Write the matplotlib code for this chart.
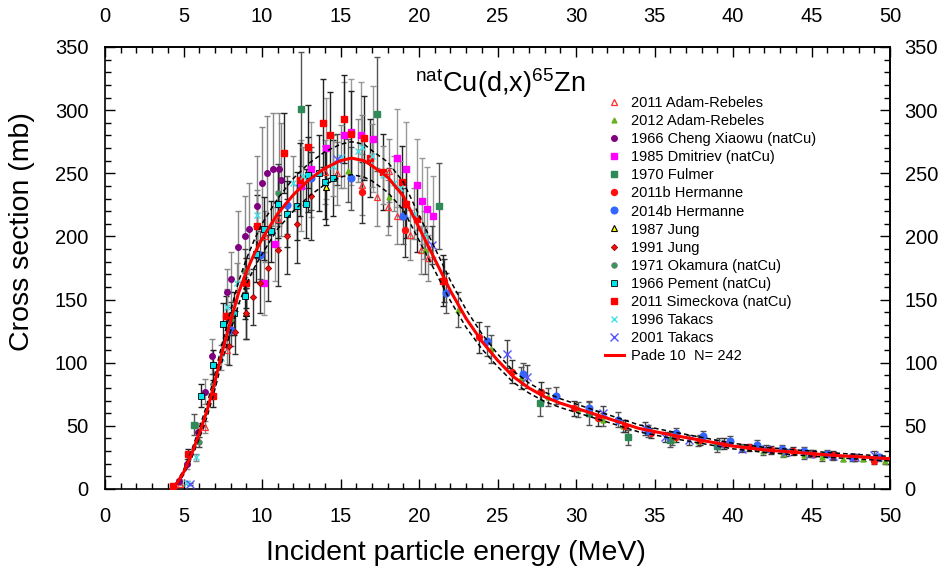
import matplotlib
matplotlib.use("Agg")
import matplotlib.pyplot as plt
from matplotlib.lines import Line2D
from matplotlib.ticker import MultipleLocator

plt.rcParams['font.family'] = ['Liberation Sans', 'DejaVu Sans']
plt.rcParams['mathtext.fontset'] = 'custom'
plt.rcParams['mathtext.rm'] = 'Liberation Sans'
plt.rcParams['mathtext.it'] = 'Liberation Sans:italic'

# ---------------- data ----------------
adam2011_E = [4.8, 6.4, 7.8, 10.2, 11.0, 14.0, 14.8, 16.4, 17.3, 18.0, 18.1, 18.6, 19.4, 20.1, 20.6]
adam2011_s = [4, 49, 110, 200, 214, 251, 250, 241, 231, 223, 252, 216, 201, 189, 183]
adam2011_e = [1, 5, 11, 20, 22, 25, 25, 24, 23, 22, 25, 22, 20, 19, 18]

adam2012_E = [15.5, 18.1, 20.4, 22.5, 24.6, 26.5, 28.2, 30.1, 31.7, 33.0, 36.1, 37.8, 40.6, 41.9, 43.2, 44.5, 45.7, 47.0, 48.3, 49.7]
adam2012_s = [252, 231, 189, 142, 111, 88, 73, 63, 55, 50, 39, 38, 33, 30, 28, 27, 25, 24, 24, 22]
adam2012_e = [25, 23, 19, 14, 11, 9, 7, 6, 5, 5, 4, 4, 3, 3, 3, 3, 3, 2, 2, 2]

cheng_E = [4.7, 5.2, 5.9, 6.4, 6.8, 7.8, 8.0, 8.5, 8.9, 9.2, 9.7, 10.0, 10.3, 10.7, 11.1, 11.2]
cheng_s = [6, 20, 45, 77, 105, 156, 166, 192, 200, 206, 224, 242, 250, 253, 253, 245]
cheng_e = [2, 4, 7, 10, 14, 18, 22, 28, 32, 36, 40, 45, 45, 45, 45, 45]

dmit_E = [10.1, 10.8, 12.5, 13.1, 14.1, 15.2, 15.7, 16.3, 17.1, 18.6, 19.2, 19.9, 20.2, 20.5, 20.9]
dmit_s = [163, 194, 240, 253, 270, 280, 283, 280, 277, 262, 253, 241, 228, 222, 216]
dmit_e = [25, 29, 36, 38, 40, 42, 42, 42, 42, 39, 38, 36, 34, 33, 32]

fulmer_E = [5.7, 12.5, 17.3, 21.3, 27.7, 30.8, 33.3, 36.0, 39.0]
fulmer_s = [51, 301, 297, 224, 68, 60, 41, 39, 34]
fulmer_e = [8, 45, 45, 34, 10, 9, 6, 6, 5]

herm11_E = [16.4, 19.1, 21.6, 23.8, 25.9, 27.8, 29.9, 31.4, 33.1, 34.8, 36.4, 37.9, 39.4, 41.0, 42.4, 43.8, 45.1, 46.4, 47.7, 49.0]
herm11_s = [235, 205, 165, 120, 93, 77, 64, 56, 50, 44, 41, 39, 36, 33, 31, 30, 28, 27, 25, 22]
herm11_e = [24, 21, 17, 12, 9, 8, 6, 6, 5, 4, 4, 4, 4, 3, 3, 3, 3, 3, 3, 2]

herm14_E = [8.0, 9.9, 11.6, 13.1, 15.7, 19.0, 21.7, 24.3, 26.6, 28.7, 30.8, 32.7, 34.6, 36.4, 38.1, 39.8, 41.5, 43.1, 44.5, 46.0, 47.6, 49.3]
herm14_s = [126, 185, 225, 246, 246, 216, 155, 117, 91, 74, 64, 55, 46, 44, 42, 38, 35, 32, 30, 28, 25, 25]
herm14_e = [13, 19, 23, 25, 25, 22, 16, 12, 9, 7, 6, 6, 5, 4, 4, 4, 4, 3, 3, 3, 3, 3]

jung87_E = [9.0, 14.1]
jung87_s = [139, 239]
jung87_e = [20, 30]

jung91_E = [7.9, 8.3, 9.0, 9.4, 9.9, 10.4, 11.0, 11.6, 12.2, 13.1]
jung91_s = [113, 124, 139, 152, 163, 175, 189, 200, 210, 232]
jung91_e = [15, 17, 20, 22, 24, 26, 28, 30, 31, 35]

okam_E = [6.0, 6.9, 8.0, 8.9, 11.0]
okam_s = [37, 83, 135, 173, 234]
okam_e = [4, 8, 13, 17, 23]

pement_E = [6.1, 6.9, 7.5, 8.2, 8.9, 9.6, 10.1, 10.6, 11.0, 11.6, 12.2, 12.8, 12.9, 13.6, 14.0, 14.5]
pement_s = [74, 98, 131, 139, 153, 186, 206, 204, 226, 218, 224, 226, 249, 250, 243, 246]
pement_e = [9, 12, 16, 17, 18, 22, 25, 24, 27, 26, 27, 27, 30, 30, 29, 30]

sime_E = [4.3, 5.3, 6.9, 7.7, 9.0, 9.7, 11.4, 12.4, 12.9, 13.9, 14.3, 15.2, 15.7, 16.5, 16.9, 17.7, 18.9, 19.2, 19.9, 21.5]
sime_s = [2, 28, 74, 137, 163, 208, 266, 245, 271, 290, 280, 293, 281, 278, 262, 251, 243, 226, 214, 165]
sime_e = [1, 4, 9, 16, 20, 25, 32, 29, 33, 35, 34, 35, 34, 33, 31, 30, 29, 27, 26, 20]

tak96_E = [5.2, 5.8, 7.4, 7.8, 8.4, 9.7, 12.0, 12.6, 14.5, 15.0, 16.1, 16.4, 17.0, 17.7, 18.4, 18.8, 19.7, 20.3]
tak96_s = [5, 25, 104, 144, 163, 217, 242, 248, 256, 263, 268, 271, 264, 249, 242, 238, 218, 201]
tak96_e = [1, 3, 10, 14, 16, 20, 22, 23, 24, 25, 25, 25, 25, 23, 22, 22, 20, 19]

tak01_E = [5.4, 14.8, 20.8, 25.6, 26.9, 31.7, 34.4, 35.7, 37.2, 39.1, 40.6, 42.1, 43.4, 44.9, 46.4, 47.8, 49.0]
tak01_s = [4, 261, 193, 107, 89, 60, 48, 41, 39, 36, 32, 32, 29, 28, 26, 25, 27]
tak01_e = [1, 20, 15, 11, 9, 6, 5, 4, 4, 4, 3, 3, 3, 3, 3, 3, 3]

fit_E = [4.2, 4.6, 5.0, 5.5, 6.0, 6.5, 7.0, 7.5, 8.0, 8.5, 9.0, 9.5, 10, 11, 12, 13, 14, 15, 15.7,
         16.5, 17, 18, 19, 20, 21, 22, 23, 24, 25, 26, 27, 28, 29, 30, 32, 34, 36, 38, 40, 42, 44, 46, 48, 50]
fit_s = [0, 5, 13, 27, 44, 62, 85, 110, 133, 155, 172, 186, 198, 218, 233, 245, 254, 260, 262,
         260, 256, 247, 232, 207, 182, 157, 135, 117, 102, 89, 80, 73, 68, 64, 56, 48, 43, 38.5, 34, 31, 29, 27, 25.5, 24]
fit_w = [0, 1, 2, 3, 4, 5, 6, 7, 8, 9, 10, 11, 12, 12, 13, 13, 13, 13, 13,
         13, 12, 12, 11, 10, 9, 8, 7, 6, 5, 4.5, 4, 3.7, 3.5, 3.3, 3, 2.8, 2.6, 2.4, 2.2, 2, 2, 1.9, 1.8, 1.8]

xticks = [0, 5, 10, 15, 20, 25, 30, 35, 40, 45, 50]
yticks = [0, 50, 100, 150, 200, 250, 300, 350]

# ---------------- figure ----------------
fig = plt.figure(figsize=(9.5, 5.71), dpi=100)
ax = fig.add_axes([105/950, 1-489/571, 785/950, 442/571])

series = [
    ("2011 Adam-Rebeles", adam2011_E, adam2011_s, adam2011_e, dict(marker='^', mfc='none', mec='#ff3030', ms=4.5, mew=0.9), '#888888'),
    ("2012 Adam-Rebeles", adam2012_E, adam2012_s, adam2012_e, dict(marker='^', mfc='#66b21f', mec='#66b21f', ms=3.5), '#555555'),
    ("1966 Cheng Xiaowu (natCu)", cheng_E, cheng_s, cheng_e, dict(marker='o', mfc='#800080', mec='#800080', ms=4), '#888888'),
    ("1985 Dmitriev (natCu)", dmit_E, dmit_s, dmit_e, dict(marker='s', mfc='#ff00ff', mec='#ff00ff', ms=4.3), '#999999'),
    ("1970 Fulmer", fulmer_E, fulmer_s, fulmer_e, dict(marker='s', mfc='#2e8b57', mec='#2e8b57', ms=5), '#555555'),
    ("2011b Hermanne", herm11_E, herm11_s, herm11_e, dict(marker='o', mfc='#ff1010', mec='#ff1010', ms=4.3), '#333333'),
    ("2014b Hermanne", herm14_E, herm14_s, herm14_e, dict(marker='o', mfc='#3366ff', mec='#3366ff', ms=4.8), '#555555'),
    ("1987 Jung", jung87_E, jung87_s, jung87_e, dict(marker='^', mfc='#ffff00', mec='#000000', ms=4.5, mew=0.8), '#222222'),
    ("1991 Jung", jung91_E, jung91_s, jung91_e, dict(marker='D', mfc='#ee1111', mec='#990000', ms=3.2, mew=0.6), '#333333'),
    ("1971 Okamura (natCu)", okam_E, okam_s, okam_e, dict(marker='o', mfc='#2e9b57', mec='#777777', ms=4, mew=0.6), '#444444'),
    ("1966 Pement (natCu)", pement_E, pement_s, pement_e, dict(marker='s', mfc='#00e5ee', mec='#000000', ms=4, mew=0.6), '#222222'),
    ("2011 Simeckova (natCu)", sime_E, sime_s, sime_e, dict(marker='s', mfc='#ff0000', mec='#ff0000', ms=5), '#222222'),
    ("1996 Takacs", tak96_E, tak96_s, tak96_e, dict(marker='x', mfc='none', mec='#44e0e8', ms=4.5, mew=1.0), '#888888'),
    ("2001 Takacs", tak01_E, tak01_s, tak01_e, dict(marker='x', mfc='none', mec='#5555ff', ms=5.5, mew=1.0), '#444444'),
]

handles = []
for label, E, s, e, mk, ecol in series:
    ax.errorbar(E, s, yerr=e, fmt='none', ecolor=ecol, elinewidth=1.0, capsize=2.5, capthick=1.0, zorder=2)
    ax.plot(E, s, linestyle='none', zorder=3, **mk)
    handles.append(Line2D([], [], linestyle='none', label=label, **mk))

upper = [v + w for v, w in zip(fit_s, fit_w)]
lower = [max(v - w, 0) for v, w in zip(fit_s, fit_w)]
ax.plot(fit_E, upper, color='black', linestyle=(0, (3, 2)), linewidth=1.1, zorder=4)
ax.plot(fit_E, lower, color='black', linestyle=(0, (3, 2)), linewidth=1.1, zorder=4)
ax.plot(fit_E, fit_s, color='#ff0000', linewidth=2.2, zorder=5)
handles.append(Line2D([], [], color='#ff0000', linewidth=2.2, label='Pade 10  N= 242'))

ax.set_xlim(0, 50)
ax.set_ylim(0, 350)
ax.set_xticks(xticks)
ax.set_yticks(yticks)
ax.xaxis.set_minor_locator(MultipleLocator(1))
ax.yaxis.set_minor_locator(MultipleLocator(10))
ax.tick_params(which='both', direction='in', top=False, right=False, labelsize=14.5, width=1.0)
ax.tick_params(which='major', length=7)
ax.tick_params(which='minor', length=4)
ax.tick_params(axis='x', which='major', pad=13)
ax.tick_params(axis='y', which='major', pad=12)
for sp in ax.spines.values():
    sp.set_linewidth(1.2)

# top and right axes carrying their own labels
secx = ax.secondary_xaxis('top')
secx.set_xticks(xticks)
secx.xaxis.set_minor_locator(MultipleLocator(1))
secx.tick_params(which='both', direction='in', labelsize=14.5, width=1.0)
secx.tick_params(which='major', length=7, pad=15)
secx.tick_params(which='minor', length=4)
secx.spines['top'].set_linewidth(1.2)

secy = ax.secondary_yaxis('right')
secy.set_yticks(yticks)
secy.yaxis.set_minor_locator(MultipleLocator(10))
secy.tick_params(which='both', direction='in', labelsize=14.5, width=1.0)
secy.tick_params(which='major', length=7, pad=10.5)
secy.tick_params(which='minor', length=4)
secy.spines['right'].set_linewidth(1.2)

fig.text(456/950, 1-553/571, 'Incident particle energy (MeV)', fontsize=20.5, ha='center', va='center')
fig.text(22/950, 1-232/571, 'Cross section (mb)', fontsize=20.5, ha='center', va='center', rotation=90)

fig.text(415/950, 1-92/571, r'$^{\mathrm{nat}}$Cu(d,x)$^{\mathrm{65}}$Zn', fontsize=19.5, ha='left', va='baseline')

leg = ax.legend(handles=handles, loc='upper left', bbox_to_anchor=(605/950, 1-96/571),
                bbox_transform=fig.transFigure, frameon=False, fontsize=10.5, handlelength=1.3,
                handletextpad=0.5, labelspacing=0.28, borderaxespad=0, borderpad=0)

fig.savefig('out.png', dpi=100)
